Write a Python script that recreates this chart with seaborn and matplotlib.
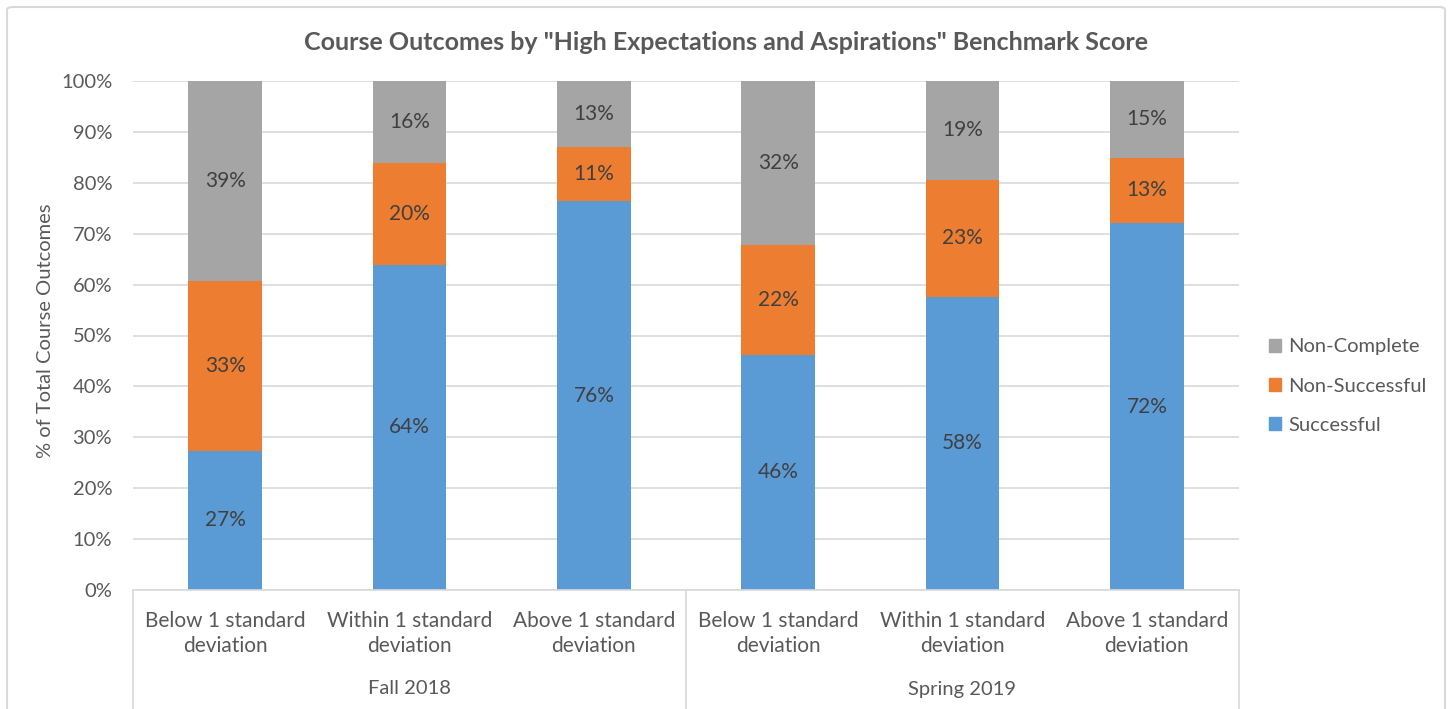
import matplotlib
matplotlib.use("Agg")
import matplotlib.pyplot as plt
import matplotlib.patches as mpatches
import matplotlib.transforms as mtransforms
import pandas as pd
import seaborn as sns

# data (% of total course outcomes)
categories = [
    "Below 1 standard\ndeviation", "Within 1 standard\ndeviation", "Above 1 standard\ndeviation",
    "Below 1 standard\ndeviation", "Within 1 standard\ndeviation", "Above 1 standard\ndeviation",
]
terms = ["Fall 2018", "Spring 2019"]
outcomes = ["Non-Complete", "Non-Successful", "Successful"]
successful = [27.4, 63.9, 76.4, 46.2, 57.6, 72.1]
non_successful = [33.3, 20.0, 10.6, 21.6, 23.0, 12.8]
non_complete = [39.3, 16.1, 13.0, 32.2, 19.4, 15.1]

colors = {"Non-Complete": "#A5A5A5", "Non-Successful": "#ED7D31", "Successful": "#5B9BD5"}
text_color = "#595959"
grid_color = "#D9D9D9"
fs = 14.5

rows = []
for i in range(len(categories)):
    rows.append({"pos": i, "outcome": "Successful", "pct": successful[i]})
    rows.append({"pos": i, "outcome": "Non-Successful", "pct": non_successful[i]})
    rows.append({"pos": i, "outcome": "Non-Complete", "pct": non_complete[i]})
df = pd.DataFrame(rows)

sns.set_style("white")
plt.rcParams["font.family"] = ["Lato", "DejaVu Sans"]

fig = plt.figure(figsize=(14.53, 7.09), dpi=100)
ax = fig.add_axes([133 / 1453, 1 - 590 / 709, (1239 - 133) / 1453, (590 - 81) / 709])

sns.histplot(
    data=df, x="pos", weights="pct", hue="outcome", hue_order=outcomes,
    multiple="stack", discrete=True, shrink=0.4, palette=colors,
    alpha=1, linewidth=0, legend=False, ax=ax,
)

for c in ax.containers:
    ax.bar_label(c, labels=[f"{v:.0f}%" for v in c.datavalues], label_type="center",
                 color="#404040", fontsize=15)

ax.set_xlim(-0.5, len(categories) - 0.5)
ax.set_ylim(0, 100)
ax.set_yticks(range(0, 101, 10))
ax.set_yticklabels([f"{t}%" for t in range(0, 101, 10)])
ax.set_xticks(range(len(categories)))
ax.set_xticklabels(categories, linespacing=1.3)
ax.tick_params(axis="both", length=0, labelsize=fs, labelcolor=text_color)
ax.tick_params(axis="x", labelsize=15, pad=15)
ax.tick_params(axis="y", pad=15)
ax.yaxis.grid(True, color=grid_color, linewidth=1.2)
ax.set_axisbelow(True)
for side in ["top", "right", "left"]:
    ax.spines[side].set_visible(False)
ax.spines["bottom"].set_color(grid_color)
ax.spines["bottom"].set_linewidth(1.2)
ax.set_xlabel("")
ax.set_ylabel("% of Total Course Outcomes", fontsize=fs, color=text_color)
ax.yaxis.set_label_coords(-(133 - 54) / 1106, 0.51)

# group separators and term labels below the category axis
trans = mtransforms.blended_transform_factory(ax.transData, ax.transAxes)
for xb in [-0.5, 2.5, 5.5]:
    ax.plot([xb, xb], [0, -600 / 509], transform=trans, color=grid_color,
            linewidth=1.2, clip_on=False)
for j, term in enumerate(terms):
    ax.text(3 * j + 1, -(689 - 590) / 509, term, transform=trans, ha="center", va="center",
            fontsize=fs, color=text_color)

fig.text(0.5, 1 - 42 / 709, 'Course Outcomes by "High Expectations and Aspirations" Benchmark Score',
         ha="center", va="center", fontsize=18, fontweight="bold", color=text_color)

handles = [mpatches.Patch(color=colors[o], label=o) for o in outcomes]
fig.legend(handles=handles, loc="center left", bbox_to_anchor=(1259 / 1453, 1 - 386 / 709),
           frameon=False, fontsize=fs, handlelength=0.6, handleheight=0.6,
           handletextpad=0.35, labelspacing=1.1, borderpad=0, labelcolor=text_color)

border = mpatches.FancyBboxPatch((7 / 1453, -0.05), (1445 - 7) / 1453, 1.05 - 7 / 709,
                                 boxstyle="round,pad=0,rounding_size=0.004",
                                 transform=fig.transFigure, fill=False,
                                 edgecolor=grid_color, linewidth=1.5)
fig.patches.append(border)

fig.savefig("out.png", dpi=100)
